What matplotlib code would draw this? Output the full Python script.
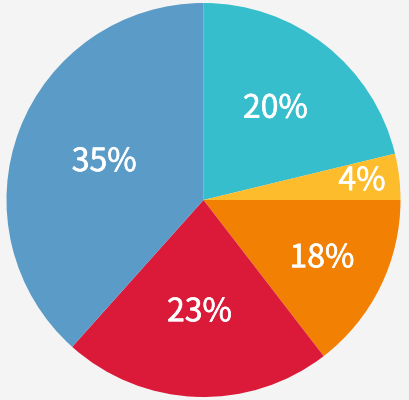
import numpy as np
import matplotlib.pyplot as plt
import matplotlib.patheffects as pe

labels = ["20%", "4%", "18%", "23%", "35%"]
# slice sizes as drawn in the picture (degrees of arc, clockwise from 12 o'clock)
sizes = [76.4, 13.6, 52.4, 79.4, 138.2]
colors = ["#36BECD", "#FCBC2C", "#F28002", "#DA1A38", "#5B9BC7"]
label_dist = [0.59, 0.81, 0.67, 0.57, 0.54]

fig = plt.figure(figsize=(4.09, 4.0), dpi=100, facecolor="#F4F4F4")
ax = fig.add_axes([0, 0, 1, 1])
ax.set_facecolor("#F4F4F4")

wedges, _ = ax.pie(sizes, colors=colors, startangle=90, counterclock=False,
                   radius=1.0, center=(0, 0), wedgeprops=dict(linewidth=0))

for w, lab, d in zip(wedges, labels, label_dist):
    mid = np.deg2rad((w.theta1 + w.theta2) / 2)
    ax.text(d * np.cos(mid), d * np.sin(mid), lab, color="white",
            fontsize=23, ha="center", va="center",
            family=["Noto Sans CJK SC", "DejaVu Sans"],
            path_effects=[pe.withStroke(linewidth=0.45, foreground="white")])

ax.set_aspect("auto")
ax.set_xlim(-203.5 / 197, (409 - 203.5) / 197)
ax.set_ylim(-200 / 197, 200 / 197)
ax.axis("off")

fig.savefig("out.png", dpi=100, facecolor=fig.get_facecolor())
